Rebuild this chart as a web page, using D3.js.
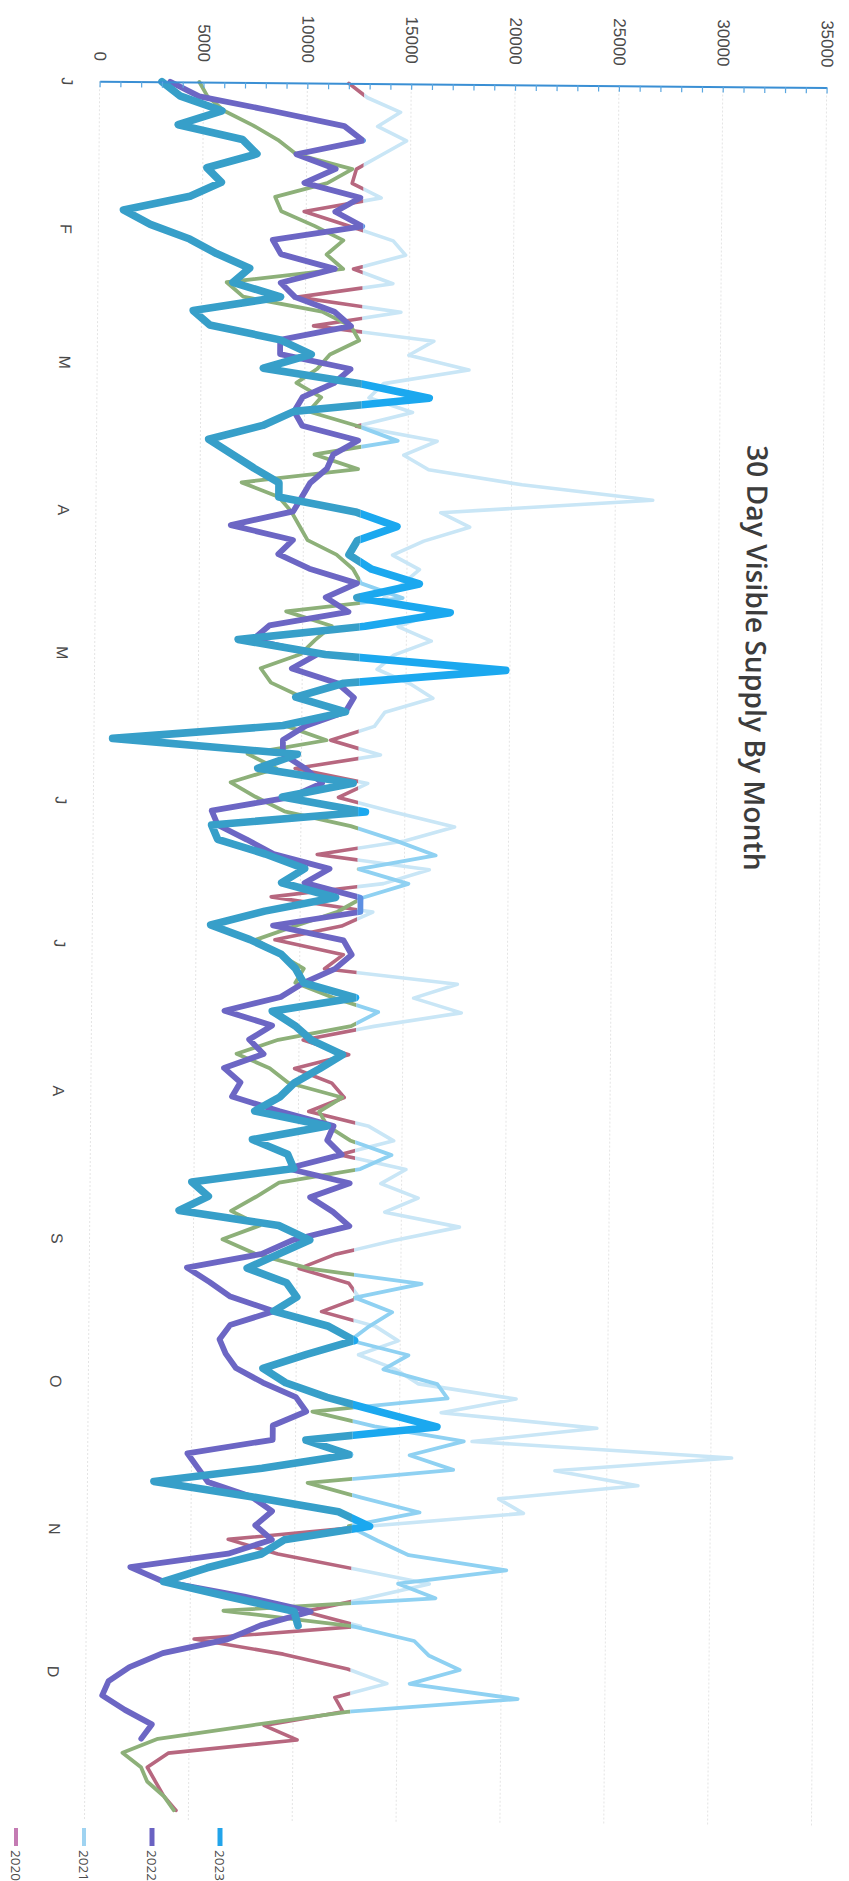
<!DOCTYPE html>
<html><head><meta charset="utf-8">
<script src="https://cdn.jsdelivr.net/npm/d3@7"></script>
<style>html,body{margin:0;padding:0;background:#fff;overflow:hidden}</style>
</head><body>
<script>
// ---- data (values in thousands, one point every 3 days from 1 Jan) ----
const monthLabels = ["J","F","M","A","M","J","J","A","S","O","N","D"];
const monthStartDays = [0,31,59,90,120,151,181,212,243,273,304,334];
const valueTicks = [0,5000,10000,15000,20000,25000,30000,35000];
const seriesNames = ["2020","2021","2022","2023"];

const v2020 = [12.0,12.9,14.5,13.4,14.8,13.6,12.4,12.2,13.6,9.9,
12.1,14.2,14.8,12.3,14.2,9.6,14.6,10.4,16.2,15.0,
17.9,13.8,13.1,15.2,12.5,16.4,14.8,16.0,20.5,26.8,
16.6,18.0,15.8,14.3,15.6,14.8,13.9,16.4,14.6,16.2,
14.4,13.6,15.2,16.3,14.0,13.5,11.4,13.8,9.7,13.2,
11.8,14.5,17.4,15.0,10.8,16.2,14.0,8.6,13.5,12.0,
8.8,12.1,11.2,17.6,15.5,17.8,13.6,10.2,12.4,9.8,
11.6,12.2,10.5,13.4,14.6,12.0,15.2,14.0,15.8,14.2,
17.8,14.6,11.8,10.1,12.5,13.0,11.2,13.8,14.9,13.0,
14.8,15.9,20.6,17.0,24.5,18.5,31.0,22.5,26.5,19.8,
21.0,13.5,6.8,9.2,12.9,16.5,13.6,10.5,13.2,5.2,
9.5,12.6,14.5,12.0,12.4,8.6,10.2,4.0,3.0,3.4,
3.8,4.4];
const v2021 = [4.8,5.2,6.0,7.4,8.6,9.5,12.2,11.0,8.5,8.8,
10.4,11.8,11.0,11.8,6.2,7.0,10.8,12.2,12.6,11.2,
10.6,9.6,10.8,10.2,12.6,14.5,10.5,12.6,7.0,8.8,
9.4,9.8,10.2,11.6,12.4,12.8,14.8,9.2,11.4,10.6,
9.9,8.0,8.5,10.0,12.0,9.2,11.2,7.4,8.8,6.6,
7.8,9.2,12.4,14.6,16.5,12.8,15.2,13.0,11.8,9.8,
7.9,9.0,10.2,9.8,11.6,13.8,12.5,9.0,7.0,8.6,
9.5,12.1,11.0,11.4,12.5,14.5,13.0,9.1,8.0,6.8,
8.2,6.4,8.0,10.6,16.0,12.8,14.6,13.5,12.6,15.4,
14.2,16.8,17.3,10.8,13.8,18.1,15.5,17.6,10.6,13.2,
16.0,12.6,14.0,15.5,20.2,15.0,16.8,6.6,12.8,15.8,
16.5,18.0,15.6,20.8,12.6,8.0,3.5,1.8,2.7,3.0,
3.8,4.3];
const v2022 = [3.4,4.8,8.4,11.8,12.7,9.5,11.4,9.9,12.6,11.4,
12.7,8.4,8.8,11.4,8.8,9.5,11.4,12.2,8.8,8.8,
12.2,11.4,9.9,9.5,9.9,12.6,11.4,11.1,10.3,9.9,
9.5,6.5,9.5,8.8,10.3,12.6,11.1,12.2,8.4,7.6,
10.7,9.5,11.7,12.5,12.1,10.2,9.1,9.1,10.2,11.0,
9.5,5.7,6.0,7.4,8.7,11.4,10.2,12.9,12.9,8.7,
12.1,12.5,11.7,10.2,9.1,6.4,8.7,7.6,8.3,6.4,
7.2,6.8,9.1,11.7,11.4,12.1,9.5,12.5,10.6,11.7,
12.5,9.8,8.3,4.7,5.8,6.8,8.9,6.8,6.3,6.6,
7.1,8.4,10.0,10.5,8.9,8.9,4.8,5.3,5.8,7.9,
8.9,8.1,8.9,6.8,2.1,3.7,7.6,10.8,8.4,6.8,
3.7,2.1,1.1,0.8,1.9,3.2,2.7,null,null,null,
null,null];
const v2023 = [3.0,3.9,5.9,3.8,6.9,7.6,5.2,5.9,4.4,1.2,
2.5,4.4,5.7,7.3,6.5,8.8,4.6,5.4,8.8,10.3,
8.0,12.6,16.0,9.5,8.0,5.4,6.5,7.6,8.8,8.8,
12.5,14.5,12.6,12.2,13.3,15.6,12.6,17.1,13.0,6.9,
11.1,19.8,12.0,9.7,12.1,9.1,0.9,9.8,7.9,12.5,
9.1,13.1,5.7,6.0,8.3,10.2,9.1,11.7,8.3,5.7,
7.6,9.1,9.8,10.2,12.7,8.7,9.8,10.6,12.1,11.0,
9.8,9.1,7.9,11.4,7.8,9.5,9.8,4.9,5.7,4.3,
9.1,10.6,9.1,7.6,9.5,10.0,8.9,11.5,12.8,10.5,
8.4,9.5,11.5,14.1,16.8,10.5,12.6,8.4,3.2,7.9,
12.1,13.6,9.5,8.4,5.8,3.7,6.8,10.0,10.2,null,
null,null,null,null,null,null,null,null,null,null,
null,null];
const days = d3.range(0, 364, 3);

// ---- layout ----
const W = 849, H = 1881;
const svg = d3.select("body").append("svg").attr("width", W).attr("height", H)
  .style("font-family", "'Open Sans', 'DejaVu Sans', sans-serif");
const g = svg.append("g").attr("transform", "rotate(0.5,424,960)");

const x = d3.scaleLinear().domain([0, 35000]).range([92, 819]);
const y = d3.scaleLinear().domain([0, 365]).range([84, 1822]);
const split = x(12750);

// gridlines
g.append("g").selectAll("line").data(valueTicks).join("line")
  .attr("x1", d => x(d)).attr("x2", d => x(d))
  .attr("y1", y(0)).attr("y2", y(365))
  .attr("stroke", "#e4e4e4").attr("stroke-width", 1).attr("stroke-dasharray", "2,2");

// clip regions (scan tint: beyond ~12750 the colours read bluer)
const defs = svg.append("defs");
defs.append("clipPath").attr("id", "cl").append("rect")
  .attr("x", 0).attr("y", 0).attr("width", split).attr("height", H + 200);
defs.append("clipPath").attr("id", "cr").append("rect")
  .attr("x", split).attr("y", 0).attr("width", W - split + 50).attr("height", H + 200);

const series = [
  {name: "2020", vals: v2020, cl: "#b7677f", cr: "#c9e6f6", w: 3.6, key: "#c47bb3"},
  {name: "2021", vals: v2021, cl: "#8db079", cr: "#8fd1f2", w: 3.8, key: "#9fd3f1"},
  {name: "2022", vals: v2022, cl: "#6c66c4", cr: "#5d8fe2", w: 5.8, key: "#6a62c2"},
  {name: "2023", vals: v2023, cl: "#379fc9", cr: "#1ba8ef", w: 7.6, key: "#22a4ea"}
];

const line = d3.line()
  .defined(d => d[1] != null)
  .x(d => x(d[1] * 1000))
  .y(d => y(d[0]));

series.forEach(s => {
  const pts = days.map((d, i) => [d, s.vals[i]]);
  g.append("path").datum(pts).attr("d", line)
    .attr("fill", "none").attr("stroke", s.cl).attr("stroke-width", s.w)
    .attr("stroke-linejoin", "round").attr("stroke-linecap", "round")
    .attr("clip-path", "url(#cl)");
  g.append("path").datum(pts).attr("d", line)
    .attr("fill", "none").attr("stroke", s.cr).attr("stroke-width", s.w)
    .attr("stroke-linejoin", "round").attr("stroke-linecap", "round")
    .attr("clip-path", "url(#cr)");
});

// value axis (top, rotated labels)
const axT = g.append("g").attr("transform", `translate(0,${y(0)})`)
  .call(d3.axisBottom(x).tickValues(d3.range(0, 35001, 1000)).tickSize(6).tickSizeOuter(0).tickFormat(""));
axT.select(".domain").attr("stroke", "#3a8fd4").attr("stroke-width", 2);
axT.selectAll(".tick line").attr("stroke", "#5aa6e0").attr("stroke-width", 1.2);

const axL = g.append("g").attr("transform", `translate(0,${y(0)})`)
  .call(d3.axisTop(x).tickValues(valueTicks).tickSize(0).tickFormat(d => String(d)));
axL.select(".domain").remove();
axL.selectAll("text")
  .attr("x", 0).attr("y", 0).attr("dy", "0.35em")
  .attr("transform", "translate(0,-20) rotate(90)")
  .style("text-anchor", "end")
  .attr("fill", "#4a4a4a").style("font-size", "17px");

// month axis (left, rotated labels)
const axM = g.append("g").attr("transform", `translate(${x(0)},0)`)
  .call(d3.axisLeft(y).tickValues(monthStartDays).tickSize(0).tickFormat((d, i) => monthLabels[i]));
axM.select(".domain").remove();
axM.selectAll("text")
  .attr("x", 0).attr("y", 0).attr("dy", 0)
  .attr("transform", "translate(-38,0) rotate(90)")
  .style("text-anchor", "middle")
  .attr("fill", "#4a4a4a").style("font-size", "16px");

// title
const title = g.append("text")
  .attr("transform", "translate(743,655) rotate(90)")
  .attr("text-anchor", "middle")
  .attr("fill", "#3c3c3c").style("font-weight", "600").style("font-size", "28px")
  .text("30 Day Visible Supply By Month");
const tl = title.node().getComputedTextLength();
title.style("font-size", (28 * 426 / tl).toFixed(2) + "px");

// legend (bottom, rotated like the rest of the page)
const leg = svg.append("g");
series.forEach((s, i) => {
  const lx = 16 + i * 68;
  leg.append("line").attr("x1", lx).attr("x2", lx).attr("y1", 1828).attr("y2", 1846)
    .attr("stroke", s.key).attr("stroke-width", i < 2 ? 4 : 5);
  leg.append("text").attr("transform", `translate(${lx - 5},1850) rotate(90)`)
    .attr("fill", "#4a4a4a").style("font-size", "13.5px").text(s.name);
});
</script>
</body></html>
